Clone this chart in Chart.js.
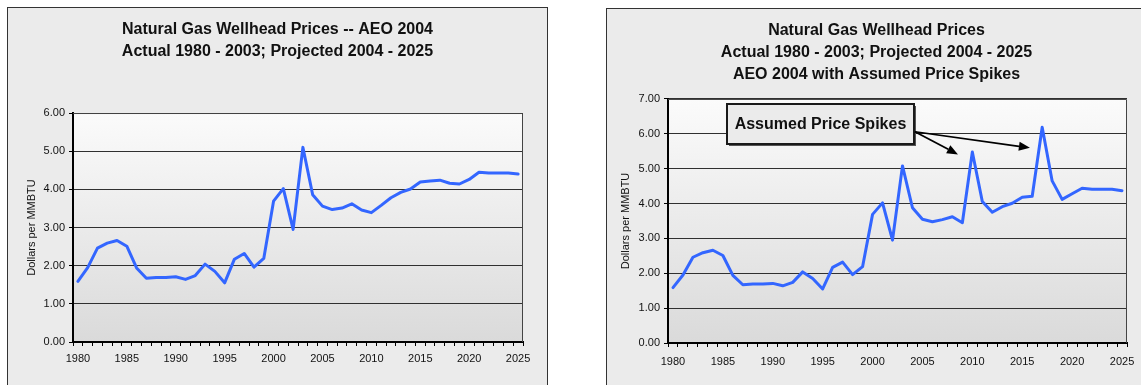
<!DOCTYPE html>
<html>
<head>
<meta charset="utf-8">
<script src="https://cdn.jsdelivr.net/npm/chart.js@4.4.1/dist/chart.umd.min.js"></script>
<style>
  html, body { margin: 0; padding: 0; background: #ffffff; width: 1141px; height: 385px; overflow: hidden; }
  .box { position: absolute; background: #ebebeb; border: 1px solid #333; overflow: hidden; }
  #boxL { left: 7px; top: 7px; width: 539px; height: 420px; }
  #boxR { left: 606px; top: 8px; width: 539px; height: 420px; }
  canvas { position: absolute; left: 0; top: 0; }
</style>
</head>
<body>
<div class="box" id="boxL"><canvas id="cL" width="539" height="377"></canvas></div>
<div class="box" id="boxR"><canvas id="cR" width="539" height="376"></canvas></div>
<script>
// ---- Data ----
const years = [1980,1981,1982,1983,1984,1985,1986,1987,1988,1989,
               1990,1991,1992,1993,1994,1995,1996,1997,1998,1999,
               2000,2001,2002,2003,2004,2005,2006,2007,2008,2009,
               2010,2011,2012,2013,2014,2015,2016,2017,2018,2019,
               2020,2021,2022,2023,2024,2025];

const pricesAEO2004 = [1.59,1.95,2.46,2.59,2.66,2.51,1.94,1.67,1.69,1.69,
                       1.71,1.64,1.74,2.04,1.85,1.55,2.17,2.32,1.96,2.19,
                       3.69,4.02,2.95,5.10,3.86,3.56,3.47,3.51,3.62,3.46,
                       3.39,3.58,3.78,3.92,4.01,4.19,4.22,4.24,4.16,4.14,
                       4.26,4.45,4.43,4.43,4.43,4.40];

const pricesWithSpikes = [1.59,1.95,2.46,2.59,2.66,2.51,1.94,1.67,1.69,1.69,
                          1.71,1.64,1.74,2.04,1.85,1.55,2.17,2.32,1.96,2.19,
                          3.69,4.02,2.95,5.08,3.88,3.55,3.48,3.54,3.62,3.45,
                          5.48,4.06,3.75,3.91,4.01,4.18,4.21,6.19,4.65,4.12,
                          4.28,4.44,4.41,4.41,4.41,4.37];

const titleLeft = ['Natural Gas Wellhead Prices -- AEO 2004',
                   'Actual 1980 - 2003; Projected 2004 - 2025'];
const titleRight = ['Natural Gas Wellhead Prices',
                    'Actual 1980 - 2003; Projected 2004 - 2025',
                    'AEO 2004 with Assumed Price Spikes'];
const yAxisTitle = 'Dollars per MMBTU';
const annotationText = 'Assumed Price Spikes';

// ---- Styling / layout ----
const FONT = "'Liberation Sans', Arial, Helvetica, sans-serif";
const LINE_COLOR = '#3366ff';

const plotBg = {
  id: 'plotBg',
  beforeDraw(chart) {
    const {ctx, chartArea: a} = chart;
    const g = ctx.createLinearGradient(0, a.top, 0, a.bottom);
    g.addColorStop(0, '#fbfbfb');
    g.addColorStop(1, '#dadada');
    ctx.save();
    ctx.fillStyle = g;
    ctx.fillRect(a.left, a.top, a.right - a.left, a.bottom - a.top);
    ctx.restore();
  },
  afterDraw(chart) {
    const {ctx, chartArea: a} = chart;
    ctx.save();
    ctx.strokeStyle = '#444';
    ctx.lineWidth = 1;
    ctx.beginPath();
    ctx.moveTo(a.left, a.top + 0.5);
    ctx.lineTo(a.right - 0.5, a.top + 0.5);
    ctx.lineTo(a.right - 0.5, a.bottom);
    ctx.stroke();
    ctx.restore();
  }
};

function makeOptions(opts) {
  return {
    responsive: false,
    animation: false,
    devicePixelRatio: 1,
    layout: { padding: 0 },
    plugins: {
      legend: { display: false },
      tooltip: { enabled: false },
      title: {
        display: true,
        text: opts.title,
        color: '#111',
        font: { family: FONT, size: 16, weight: 'bold', lineHeight: 1.36 },
        padding: { top: 11, bottom: opts.titleBottom }
      }
    },
    scales: {
      x: {
        type: 'category',
        offset: true,
        grid: { display: true, offset: true, drawOnChartArea: false, drawTicks: true,
                tickLength: 4, color: '#000', tickColor: '#000', lineWidth: 1 },
        border: { display: true, color: '#000', width: 2 },
        ticks: {
          autoSkip: false, maxRotation: 0, minRotation: 0, padding: opts.xPad,
          color: '#111', font: { family: FONT, size: 11 },
          callback: function(value) {
            const y = years[value];
            return (y % 5 === 0) ? String(y) : '';
          }
        },
        afterFit(scale) { scale.height = opts.xHeight; }
      },
      y: {
        min: 0, max: opts.yMax,
        grid: { color: '#303030', tickColor: '#000', lineWidth: 1, tickLength: 4, drawTicks: true },
        border: { display: true, color: '#000', width: 2 },
        ticks: {
          stepSize: 1, padding: 4, color: '#111',
          font: { family: FONT, size: 11 },
          callback: v => Number(v).toFixed(2)
        },
        title: {
          display: true, text: yAxisTitle, color: '#111',
          font: { family: FONT, size: 11 },
          padding: { top: opts.yTitleOffset, bottom: 0 }
        },
        afterFit(scale) { scale.width = opts.yWidth; }
      },
      // empty right-hand spacer axis, keeps the plot clear of the frame's right side
      yRight: {
        position: 'right',
        min: 0, max: opts.yMax,
        grid: { display: false, drawOnChartArea: false },
        border: { display: false },
        ticks: { display: false },
        afterFit(scale) { scale.width = opts.rightGap; }
      }
    }
  };
}

function dataset(values) {
  return {
    data: values,
    yAxisID: 'y',
    borderColor: LINE_COLOR,
    borderWidth: 3,
    pointRadius: 0,
    tension: 0,
    fill: false,
    borderJoinStyle: 'round',
    borderCapStyle: 'round'
  };
}

// Annotation positions (category index, value) for the right chart
const annBox = { x0: 5.41, x1: 24.15, y0: 6.86, y1: 5.71 };
const annStart = { x: 24.25, y: 6.06 };
const annTips = [ { x: 28.56, y: 5.41 }, { x: 35.77, y: 5.60 } ];

const annotationPlugin = {
  id: 'spikeAnnotation',
  afterDatasetsDraw(chart) {
    const {ctx, scales: {x, y}} = chart;
    const bx0 = x.getPixelForValue(annBox.x0), bx1 = x.getPixelForValue(annBox.x1);
    const by0 = y.getPixelForValue(annBox.y0), by1 = y.getPixelForValue(annBox.y1);
    ctx.save();
    ctx.fillStyle = '#555';
    ctx.fillRect(Math.round(bx0) + 2, Math.round(by0) + 2, Math.round(bx1 - bx0), Math.round(by1 - by0));
    ctx.fillStyle = '#ebebeb';
    ctx.fillRect(Math.round(bx0), Math.round(by0), Math.round(bx1 - bx0), Math.round(by1 - by0));
    ctx.strokeStyle = '#1a1a1a';
    ctx.lineWidth = 2;
    ctx.strokeRect(Math.round(bx0), Math.round(by0), Math.round(bx1 - bx0), Math.round(by1 - by0));
    ctx.fillStyle = '#111';
    ctx.font = 'bold 16px ' + FONT;
    ctx.textAlign = 'center';
    ctx.textBaseline = 'middle';
    ctx.fillText(annotationText, (bx0 + bx1) / 2, (by0 + by1) / 2 + 1);

    const sx = x.getPixelForValue(annStart.x), sy = y.getPixelForValue(annStart.y);
    ctx.strokeStyle = '#000';
    ctx.fillStyle = '#000';
    ctx.lineWidth = 1.75;
    annTips.forEach(t => {
      const tx = x.getPixelForValue(t.x), ty = y.getPixelForValue(t.y);
      const ang = Math.atan2(ty - sy, tx - sx);
      const headLen = 11, headW = 4.5;
      const baseX = tx - headLen * Math.cos(ang), baseY = ty - headLen * Math.sin(ang);
      ctx.beginPath();
      ctx.moveTo(sx, sy);
      ctx.lineTo(baseX, baseY);
      ctx.stroke();
      ctx.beginPath();
      ctx.moveTo(tx, ty);
      ctx.lineTo(baseX + headW * Math.sin(ang), baseY - headW * Math.cos(ang));
      ctx.lineTo(baseX - headW * Math.sin(ang), baseY + headW * Math.cos(ang));
      ctx.closePath();
      ctx.fill();
    });
    ctx.restore();
  }
};

new Chart(document.getElementById('cL'), {
  type: 'line',
  data: { labels: years, datasets: [dataset(pricesAEO2004)] },
  options: makeOptions({ title: titleLeft, titleBottom: 50.5, yMax: 6, rightGap: 24,
                         yWidth: 65, xHeight: 43, yTitleOffset: 17.4, xPad: 6 }),
  plugins: [plotBg]
});

new Chart(document.getElementById('cR'), {
  type: 'line',
  data: { labels: years, datasets: [dataset(pricesWithSpikes)] },
  options: makeOptions({ title: titleRight, titleBottom: 13.7, yMax: 7, rightGap: 19,
                         yWidth: 61, xHeight: 42, yTitleOffset: 12.2, xPad: 8 }),
  plugins: [plotBg, annotationPlugin]
});
</script>
</body>
</html>
